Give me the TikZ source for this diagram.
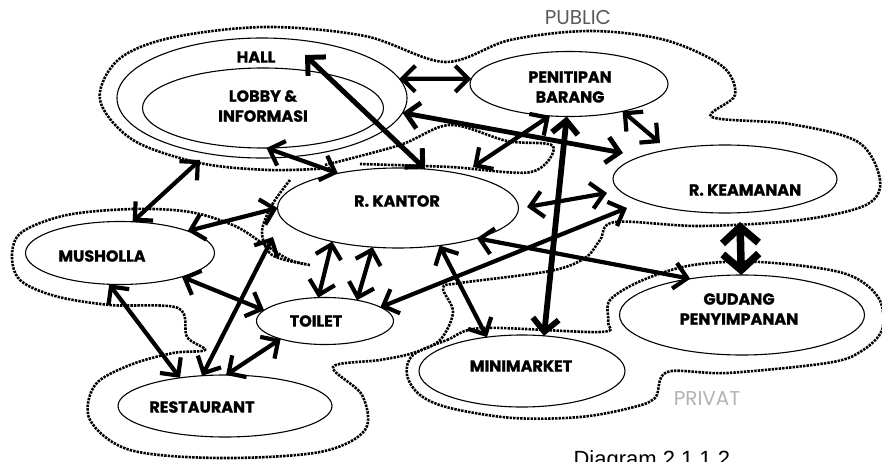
\documentclass[tikz,border=0pt]{standalone}
\usepackage{fontspec}
\setmainfont{Poppins}
\newfontfamily\capfont{Liberation Sans}
\usetikzlibrary{shapes.geometric,arrows.meta}

\begin{document}
\begin{tikzpicture}[x=1pt,y=-1pt,
    room/.style={ellipse, draw, line width=1.1pt, inner sep=0pt, outer sep=0pt},
    lbl/.style={font=\fontsize{16}{20}\selectfont\bfseries\addfontfeatures{FakeBold=1.2}, align=center},
    zone/.style={line width=2.6pt, dash pattern=on 2.4pt off 1.1pt, black},
    zonelbl/.style={font=\fontsize{20}{22}\selectfont},
    link/.style={line width=4.2pt, {Straight Barb[length=13pt,width=26pt]}-{Straight Barb[length=13pt,width=26pt]}},
    biglink/.style={line width=7.5pt, {Straight Barb[length=16pt,width=36pt]}-{Straight Barb[length=16pt,width=36pt]}}
]
    \useasboundingbox (0,0) rectangle (882,462);
    \clip (0,0) rectangle (882,462);

    % zone boundaries
    \draw[zone] plot[smooth, tension=0.55] coordinates {
        (310,265) (290,260) (265,245) (235,226) (190,212) (133,209) (67,215) (22,232)
        (12,255) (20,280) (55,296) (110,305) (178,308) (187,337) (205,350)
        (173,353) (130,365) (95,385) (90,420) (130,450) (220,458) (320,452) (365,430)
        (362,395) (333,367) (380,360) (413,353) (440,340) (453,312) (443,288) (460,283)
        (550,271) (585,258) (600,240) (615,222) (700,226) (800,220) (866,205) (880,180)
        (858,142) (790,124) (712,117) (735,95) (722,66) (665,40) (590,31) (510,40)
        (445,62) (365,36) (265,27) (170,38) (118,60) (100,100) (133,140) (200,163)
        (270,170) (333,168)};
    \draw[zone] plot[smooth, tension=0.55] coordinates {
        (325,165) (400,145) (450,125) (507,141) (553,146) (531,172) (450,167) (360,164)};
    \draw[zone] plot[smooth, tension=0.55] coordinates {
        (290,180) (272,205) (262,232) (272,255) (305,264)};
    \draw[zone] plot[smooth cycle, tension=0.55] coordinates {
        (413,355) (447,340) (483,328) (600,332) (608,322) (610,300) (643,280) (693,265)
        (760,262) (843,273) (878,297) (882,330) (860,352) (827,363) (727,373) (667,372)
        (655,398) (630,408) (580,417) (513,418) (450,408) (420,395) (407,375)};

    % rooms
    \node[room, minimum width=290pt, minimum height=120pt] (hall) at (262,98) {};
    \node[room, minimum width=241pt, minimum height=80pt] (lobby) at (263,108) {};
    \node[room, minimum width=198pt, minimum height=65pt] (penitipan) at (569,84) {};
    \node[room, minimum width=241pt, minimum height=80pt] (kantor) at (398,208) {};
    \node[room, minimum width=224pt, minimum height=68pt] (keamanan) at (725,179) {};
    \node[room, minimum width=189pt, minimum height=63pt] (musholla) at (120,253) {};
    \node[room, minimum width=137pt, minimum height=47pt] (toilet) at (325,321) {};
    \node[room, minimum width=214pt, minimum height=62pt] (restaurant) at (225,406) {};
    \node[room, minimum width=206pt, minimum height=72pt] (minimarket) at (522,371) {};
    \node[room, minimum width=245pt, minimum height=80pt] (gudang) at (742,315) {};

    % labels
    \node[lbl] (t-hall) at (256,57) {HALL};
    \node[lbl] (t-lobby) at (263,106) {LOBBY \&\\INFORMASI};
    \node[lbl] (t-penitipan) at (570,87) {PENITIPAN\\BARANG};
    \node[lbl] (t-kantor) at (397,201) {R. KANTOR};
    \node[lbl] (t-keamanan) at (745,190) {R. KEAMANAN};
    \node[lbl] (t-musholla) at (102,256) {MUSHOLLA};
    \node[lbl] (t-toilet) at (316,321) {TOILET};
    \node[lbl] (t-restaurant) at (202,407) {RESTAURANT};
    \node[lbl] (t-minimarket) at (521,366) {MINIMARKET};
    \node[lbl] (t-gudang) at (739,309) {GUDANG\\PENYIMPANAN};
    \node[zonelbl, text=black!65] (t-public) at (578,18) {PUBLIC};
    \node[zonelbl, text=black!30] (t-privat) at (707,399) {PRIVAT};
    \node[font=\capfont\fontsize{22}{24}\selectfont, anchor=base west] (t-caption) at (570,466) {Diagram 2.1.1.2};

    % free arrow ends
    \coordinate (hallTop) at (305,55);
    \coordinate (ringSW) at (200,160);
    \coordinate (kantorNE) at (473,167);
    \coordinate (keamNW) at (660,143);
    \coordinate (keamW1) at (623,153);
    \coordinate (kantorE) at (527,207);
    \coordinate (keamW2) at (607,193);
    \coordinate (keamW3) at (627,208);
    \coordinate (kantorW) at (273,237);
    \coordinate (keamS) at (740,222);

    % relations
    \draw[link, line width=5pt] (hallTop) -- (kantor.55);
    \draw[link] (hall.8) -- (penitipan.177);
    \draw[link, line width=4.8pt] (hall.354) -- (keamW1);
    \draw[link] (lobby.275) -- (kantor.150);
    \draw[link] (ringSW) -- (musholla.68);
    \draw[link] (musholla.18) -- (kantor.180);
    \draw[link] (penitipan.239) -- (kantorNE);
    \draw[link] (penitipan.333) -- (keamNW);
    \draw[link, line width=5.8pt] (penitipan.266) -- (minimarket.58);
    \draw[link] (kantorE) -- (keamW2);
    \draw[link] (toilet.14) -- (keamW3);
    \draw[link] (kantor.339) -- (gudang.145);
    \draw[link] (kantor.318) -- (minimarket.136);
    \draw[link] (kantor.207) -- (toilet.106);
    \draw[link] (kantor.237) -- (toilet.33);
    \draw[link] (musholla.339) -- (toilet.170);
    \draw[link] (musholla.251) -- (restaurant.148);
    \draw[link] (restaurant.127) -- (kantorW);
    \draw[link] (restaurant.88) -- (toilet.202);
    \draw[biglink] (keamS) -- (gudang.91);
\end{tikzpicture}
\end{document}
